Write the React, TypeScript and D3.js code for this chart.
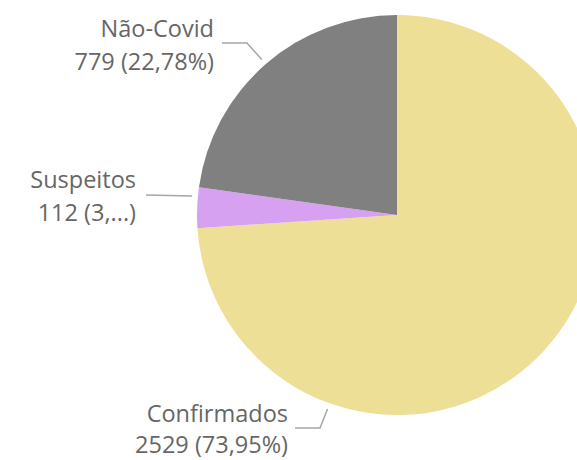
import React from "react";
import * as d3 from "d3";

const categories = ["Confirmados", "Suspeitos", "Não-Covid"];
const values = [2529, 112, 779];
const valueLabels = ["2529 (73,95%)", "112 (3,...)", "779 (22,78%)"];
const colors = ["#EEDF96", "#D7A1F2", "#808080"];

export default function App() {
  const W = 577, H = 460;
  const cx = 397, cy = 215, r = 200;
  const pie = d3.pie<number>().sort(null).value((d) => d)(values);
  const arc = d3.arc<d3.PieArcDatum<number>>().innerRadius(0).outerRadius(r);
  const deg = Math.PI / 180;
  // label layout
  const labelPos = [
    { tx: 288, y1: 422, y2: 453, x0: 295, lx: 320, ly: 428, ang: 199.7 * deg },
    { tx: 136, y1: 188, y2: 221, x0: 146, lx: 146, ly: 195, ang: -1 },
    { tx: 214, y1: 37, y2: 70, x0: 222, lx: 247, ly: 43, ang: -1 },
  ];
  const font = "'Open Sans', sans-serif";
  return (
    <svg width={W} height={H} style={{ position: "absolute", left: 0, top: 0 }}>
      <g transform={`translate(${cx},${cy})`}>
        {pie.map((p, i) => (
          <path key={i} d={arc(p) || ""} fill={colors[i]} />
        ))}
      </g>
      {pie.map((p, i) => {
        const L = labelPos[i];
        const a = L.ang >= 0 ? L.ang : (p.startAngle + p.endAngle) / 2 + (i === 1 ? 3.2 * deg : 0);
        const er = r + 6;
        const ex = cx + Math.sin(a) * er;
        const ey = cy - Math.cos(a) * er;
        const pts = [[L.x0, L.ly], [L.lx, L.ly], [ex, ey]];
        return (
          <g key={i}>
            <polyline
              points={pts.map((q) => q.join(",")).join(" ")}
              fill="none"
              stroke="#A6A6A6"
              strokeWidth={1.5}
            />
            <text x={L.tx} y={L.y1} textAnchor="end" fontFamily={font} fontSize={23.5} fill="#666666">
              {categories[i]}
            </text>
            <text x={L.tx} y={L.y2} textAnchor="end" fontFamily={font} fontSize={23.5} fill="#666666">
              {valueLabels[i]}
            </text>
          </g>
        );
      })}
    </svg>
  );
}
